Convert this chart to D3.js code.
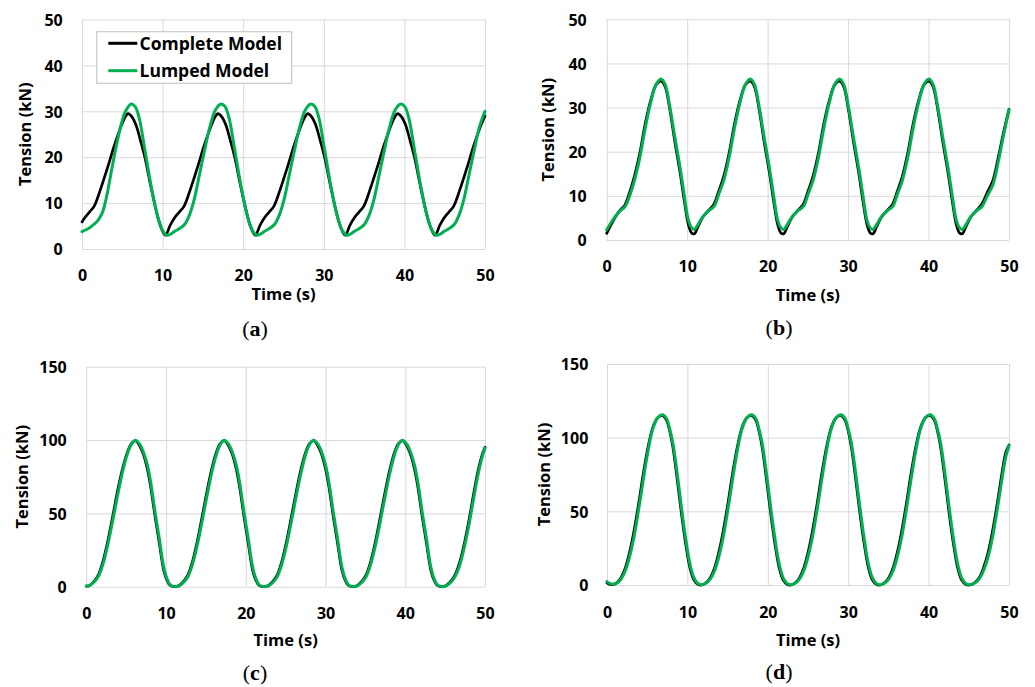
<!DOCTYPE html>
<html>
<head>
<meta charset="utf-8">
<script src="https://cdn.jsdelivr.net/npm/d3@7"></script>
<style>
  html, body { margin: 0; padding: 0; background: #fff; }
  svg { display: block; }
</style>
</head>
<body>
<svg id="chart" width="1035" height="687"></svg>
<script>
// ---------------- DATA ----------------
const timeTicks = [0, 10, 20, 30, 40, 50];
const tensionTicksAB = [0, 10, 20, 30, 40, 50];
const tensionTicksCD = [0, 50, 100, 150];
const seriesNames = ["Complete Model", "Lumped Model"];
const captions = ["a", "b", "c", "d"];
const xTitle = "Time (s)";
const yTitle = "Tension (kN)";

// Panel (a)
const timeA_complete = [0,0.3,0.9,1.5,2.2,3.2,4.0,4.8,5.3,5.7,
  6.2,6.7,7.2,7.8,8.5,9.4,9.9,10.35,
  10.95,11.45,12.05,12.65,13.35,14.35,15.15,15.95,16.45,16.85,
  17.35,17.85,18.35,18.95,19.65,20.55,21.05,21.5,
  22.1,22.6,23.2,23.8,24.5,25.5,26.3,27.1,27.6,28.0,
  28.5,29.0,29.5,30.1,30.8,31.7,32.2,32.65,
  33.25,33.75,34.35,34.95,35.65,36.65,37.45,38.25,38.75,39.15,
  39.65,40.15,40.65,41.25,41.95,42.85,43.35,43.8,
  44.4,44.9,45.5,46.1,46.8,47.8,48.6,49.4,49.9,50.0];
const tensionA_complete = [5.9,6.7,8.0,9.3,12.5,17.9,22.5,26.5,28.6,29.5,
  28.8,27.0,24.0,20.0,14.0,7.0,4.3,3.0,
  5.2,6.7,8.0,9.3,12.5,17.9,22.5,26.5,28.6,29.5,
  28.8,27.0,24.0,20.0,14.0,7.0,4.3,3.0,
  5.2,6.7,8.0,9.3,12.5,17.9,22.5,26.5,28.6,29.5,
  28.8,27.0,24.0,20.0,14.0,7.0,4.3,3.0,
  5.2,6.7,8.0,9.3,12.5,17.9,22.5,26.5,28.6,29.5,
  28.8,27.0,24.0,20.0,14.0,7.0,4.3,3.0,
  5.2,6.7,8.0,9.3,12.5,17.9,22.5,26.5,28.6,29.0];
const timeA_lumped = [0,0.5,1.0,1.5,2.0,2.5,3.0,3.6,4.2,4.9,5.4,6.1,
  6.6,7.1,7.8,8.6,9.4,10.0,10.55,
  11.05,11.55,12.15,12.75,13.35,13.95,14.55,15.15,15.85,16.55,17.25,
  17.75,18.25,18.95,19.75,20.55,21.15,21.7,
  22.2,22.7,23.3,23.9,24.5,25.1,25.7,26.3,27.0,27.7,28.4,
  28.9,29.4,30.1,30.9,31.7,32.3,32.85,
  33.35,33.85,34.45,35.05,35.65,36.25,36.85,37.45,38.15,38.85,39.55,
  40.05,40.55,41.25,42.05,42.85,43.45,44.0,
  44.5,45.0,45.6,46.2,46.8,47.4,48.0,48.6,49.3,50.0];
const tensionA_lumped = [3.8,4.2,4.7,5.4,6.3,7.8,11.0,16.5,22.0,27.4,30.0,31.6,
  31.0,28.5,21.6,13.5,7.0,4.0,3.0,
  3.3,3.9,4.5,5.4,7.5,11.0,16.0,21.0,26.5,30.3,31.6,
  31.0,28.5,21.6,13.5,7.0,4.0,3.0,
  3.3,3.9,4.5,5.4,7.5,11.0,16.0,21.0,26.5,30.3,31.6,
  31.0,28.5,21.6,13.5,7.0,4.0,3.0,
  3.3,3.9,4.5,5.4,7.5,11.0,16.0,21.0,26.5,30.3,31.6,
  31.0,28.5,21.6,13.5,7.0,4.0,3.0,
  3.3,3.9,4.5,5.4,7.5,11.0,16.0,21.0,26.5,30.0];

// Panel (b)
const timeB = [0,0.5,1.0,1.6,2.25,2.85,3.45,4.15,4.75,5.45,6.15,6.75,
  7.25,7.85,8.45,9.1,9.65,10.15,10.55,10.9,
  11.35,11.95,12.65,13.35,13.95,14.55,15.25,15.85,16.55,17.25,17.85,
  18.35,18.95,19.55,20.2,20.75,21.25,21.65,22.0,
  22.45,23.05,23.75,24.45,25.05,25.65,26.35,26.95,27.65,28.35,28.95,
  29.45,30.05,30.65,31.3,31.85,32.35,32.75,33.1,
  33.55,34.15,34.85,35.55,36.15,36.75,37.45,38.05,38.75,39.45,40.05,
  40.55,41.15,41.75,42.4,42.95,43.45,43.85,44.2,
  44.65,45.25,45.95,46.65,47.3,48.0,48.7,49.3,50.0];
const tensionB_complete = [1.5,3.3,5.0,6.6,7.9,10.8,14.5,20.0,26.0,31.5,35.2,36.0,
  34.8,29.5,22.5,15.5,8.8,3.5,1.6,1.4,
  3.0,5.2,6.7,8.2,11.2,14.5,20.0,26.0,31.5,35.2,36.0,
  34.8,29.5,22.5,15.5,8.8,3.5,1.6,1.4,
  3.0,5.2,6.7,8.2,11.2,14.5,20.0,26.0,31.5,35.2,36.0,
  34.8,29.5,22.5,15.5,8.8,3.5,1.6,1.4,
  3.0,5.2,6.7,8.2,11.2,14.5,20.0,26.0,31.5,35.2,36.0,
  34.8,29.5,22.5,15.5,8.8,3.5,1.6,1.4,
  3.0,5.2,6.7,8.2,10.8,13.5,19.0,24.2,29.6];
const tensionB_lumped = [2.3,3.8,5.2,6.5,7.5,10.0,13.5,19.0,25.0,31.0,35.3,36.5,
  35.3,30.2,23.5,16.6,10.0,4.5,2.8,2.4,
  3.5,5.3,6.6,7.6,10.5,13.5,19.0,25.0,31.0,35.3,36.5,
  35.3,30.2,23.5,16.6,10.0,4.5,2.8,2.4,
  3.5,5.3,6.6,7.6,10.5,13.5,19.0,25.0,31.0,35.3,36.5,
  35.3,30.2,23.5,16.6,10.0,4.5,2.8,2.4,
  3.5,5.3,6.6,7.6,10.5,13.5,19.0,25.0,31.0,35.3,36.5,
  35.3,30.2,23.5,16.6,10.0,4.5,2.8,2.4,
  3.5,5.3,6.6,7.6,10.0,12.5,18.0,23.5,29.5];

// Panel (c)
const timeC = [0,0.35,0.95,1.55,2.15,2.75,3.35,3.95,4.55,5.15,5.65,6.15,
  6.65,7.15,7.65,8.05,8.65,9.15,9.7,10.15,10.5,10.95,
  11.5,12.1,12.7,13.3,13.9,14.5,15.1,15.7,16.3,16.8,17.3,
  17.8,18.3,18.8,19.2,19.8,20.3,20.85,21.3,21.65,22.1,
  22.7,23.3,23.9,24.5,25.1,25.7,26.3,26.9,27.5,28.0,28.5,
  29.0,29.5,30.0,30.4,31.0,31.5,32.05,32.5,32.85,33.3,
  33.85,34.45,35.05,35.65,36.25,36.85,37.45,38.05,38.65,39.15,39.65,
  40.15,40.65,41.15,41.55,42.15,42.65,43.2,43.65,44.0,44.45,
  45.0,45.6,46.2,46.85,47.45,48.05,48.6,49.15,49.65,50.0];
const tensionC_complete = [0.4,0.6,3.5,8.5,18.5,32.5,49,66,80.5,91.5,97.5,99.5,
  96.5,90.5,80.5,69,47,30,11.5,4,1.0,0.1,
  0.4,3.0,7.5,16.8,30.5,47,64,79.5,91.5,97.5,99.5,
  96.5,90.5,80.5,69,47,30,11.5,4,1.0,0.1,
  0.4,3.0,7.5,16.8,30.5,47,64,79.5,91.5,97.5,99.5,
  96.5,90.5,80.5,69,47,30,11.5,4,1.0,0.1,
  0.4,3.0,7.5,16.8,30.5,47,64,79.5,91.5,97.5,99.5,
  96.5,90.5,80.5,69,47,30,11.5,4,1.0,0.1,
  0.4,3.0,7.5,17,30.5,47,64,79.5,90,95];
const tensionC_lumped = [0.5,0.6,3.0,7.5,16.5,30,46,63,78.5,90.5,97,99.8,
  97.5,92,83,72,50,33,13.6,5,1.5,0.2,
  0.3,2.5,6.5,15,28,44,61,77,90,97,99.8,
  97.5,92,83,72,50,33,13.6,5,1.5,0.2,
  0.3,2.5,6.5,15,28,44,61,77,90,97,99.8,
  97.5,92,83,72,50,33,13.6,5,1.5,0.2,
  0.3,2.5,6.5,15,28,44,61,77,90,97,99.8,
  97.5,92,83,72,50,33,13.6,5,1.5,0.2,
  0.3,2.5,6.5,15,28,44,61,77,88.5,94.5];

// Panel (d)
const timeD = [0,0.3,0.7,1.3,1.8,2.3,2.8,3.3,3.9,4.5,5.1,5.7,6.3,6.9,
  7.4,7.8,8.2,8.75,9.25,9.8,10.3,10.8,11.3,11.8,
  12.4,12.9,13.4,13.9,14.4,15.0,15.6,16.2,16.8,17.4,18.0,
  18.5,18.9,19.3,19.85,20.35,20.9,21.4,21.9,22.4,22.9,
  23.5,24.0,24.5,25.0,25.5,26.1,26.7,27.3,27.9,28.5,29.1,
  29.6,30.0,30.4,30.95,31.45,32.0,32.5,33.0,33.5,34.0,
  34.6,35.1,35.6,36.1,36.6,37.2,37.8,38.4,39.0,39.6,40.2,
  40.7,41.1,41.5,42.05,42.55,43.1,43.6,44.1,44.6,45.1,
  45.8,46.35,46.85,47.4,47.9,48.5,49.1,49.6,50.0];
const tensionD_complete = [1.5,0.6,0.3,1.8,5.5,12,22,35,54,75,93.5,107,113.5,115,
  112,104.5,93.5,71,49,27.5,12,3.5,0.5,0,
  1.8,5.5,12,22,35,54,75,93.5,107,113.5,115,
  112,104.5,93.5,71,49,27.5,12,3.5,0.5,0,
  1.8,5.5,12,22,35,54,75,93.5,107,113.5,115,
  112,104.5,93.5,71,49,27.5,12,3.5,0.5,0,
  1.8,5.5,12,22,35,54,75,93.5,107,113.5,115,
  112,104.5,93.5,71,49,27.5,12,3.5,0.5,0,
  1.8,5.5,12,22,35,54,75,90,95];
const tensionD_lumped = [2.3,1.2,0.5,1.5,4.5,10,19,31,50,71,91,106,113.5,115.5,
  113,106,96.2,75,53,31,14.7,5,1,0.2,
  1.5,4.5,10,19,31,50,71,91,106,113.5,115.5,
  113,106,96.2,75,53,31,14.7,5,1,0.2,
  1.5,4.5,10,19,31,50,71,91,106,113.5,115.5,
  113,106,96.2,75,53,31,14.7,5,1,0.2,
  1.5,4.5,10,19,31,50,71,91,106,113.5,115.5,
  113,106,96.2,75,53,31,14.7,5,1,0.2,
  1.5,4.5,10,19,31,50,71,87,94.5];

// ---------------- LAYOUT / STYLE ----------------
const COLORS = ["#000000", "#00b050"];
const WIDTHS = [2.7, 3.0];
const GRID = "#d9d9d9";
const SANS = "'Open Sans', 'DejaVu Sans', sans-serif";
const SERIF = "'Liberation Serif', 'DejaVu Serif', serif";
const TICK_FS = 16, TITLE_FS = 16.5, CAP_H = 0.714;

const zip = (t, v) => t.map((d, i) => ({ t: d, v: v[i] }));

const panels = [
  { cap: captions[0], left: 82, right: 485, top: 19.5, bottom: 249, yMax: 50, yTicks: tensionTicksAB,
    series: [zip(timeA_complete, tensionA_complete), zip(timeA_lumped, tensionA_lumped)],
    yLabRight: 62.7, xLabC: 275.5, xTitleC: 294.5, yTitleC: 25, capBase: 336, capX: 255, legend: true },
  { cap: captions[1], left: 606.7, right: 1009, top: 19.3, bottom: 240, yMax: 50, yTicks: tensionTicksAB,
    series: [zip(timeB, tensionB_complete), zip(timeB, tensionB_lumped)],
    yLabRight: 586.7, xLabC: 266, xTitleC: 295, yTitleC: 548, capBase: 335, capX: 779 },
  { cap: captions[2], left: 86.3, right: 485, top: 366.7, bottom: 586.7, yMax: 150, yTicks: tensionTicksCD,
    series: [zip(timeC, tensionC_complete), zip(timeC, tensionC_lumped)],
    yLabRight: 66.7, xLabC: 613, xTitleC: 640, yTitleC: 22.5, capBase: 680, capX: 255 },
  { cap: captions[3], left: 607, right: 1009, top: 364, bottom: 585, yMax: 150, yTicks: tensionTicksCD,
    series: [zip(timeD, tensionD_complete), zip(timeD, tensionD_lumped)],
    yLabRight: 588.3, xLabC: 612, xTitleC: 640, yTitleC: 544, capBase: 679, capX: 779 }
];

const svg = d3.select("#chart");

panels.forEach(p => {
  const x = d3.scaleLinear().domain([0, 50]).range([p.left, p.right]);
  const y = d3.scaleLinear().domain([0, p.yMax]).range([p.bottom, p.top]);
  const g = svg.append("g");
  const capOff = TICK_FS * CAP_H / 2;

  // x axis + vertical gridlines
  const gx = g.append("g")
    .attr("transform", `translate(0,${p.bottom})`)
    .call(d3.axisBottom(x).tickValues(timeTicks).tickFormat(d3.format("d"))
      .tickSizeInner(-(p.bottom - p.top)).tickSizeOuter(0).tickPadding(0));
  gx.select(".domain").remove();
  gx.selectAll(".tick line").attr("stroke", GRID).attr("stroke-width", 1);
  gx.selectAll(".tick text")
    .attr("dy", null)
    .attr("y", p.xLabC - p.bottom + capOff)
    .attr("fill", "#000")
    .style("font-family", SANS).style("font-size", TICK_FS + "px").style("font-weight", "bold");

  // y axis + horizontal gridlines
  const gy = g.append("g")
    .attr("transform", `translate(${p.left},0)`)
    .call(d3.axisLeft(y).tickValues(p.yTicks).tickFormat(d3.format("d"))
      .tickSizeInner(-(p.right - p.left)).tickSizeOuter(0).tickPadding(0));
  gy.select(".domain").remove();
  gy.selectAll(".tick line").attr("stroke", GRID).attr("stroke-width", 1);
  gy.selectAll(".tick text")
    .attr("dy", null)
    .attr("x", p.yLabRight - p.left)
    .attr("y", capOff)
    .attr("fill", "#000")
    .style("font-family", SANS).style("font-size", TICK_FS + "px").style("font-weight", "bold");

  // series lines
  const line = d3.line().x(d => x(d.t)).y(d => y(d.v)).curve(d3.curveCatmullRom.alpha(0.5));
  p.series.forEach((s, i) => {
    g.append("path")
      .datum(s)
      .attr("d", line)
      .attr("fill", "none")
      .attr("stroke", COLORS[i])
      .attr("stroke-width", WIDTHS[i])
      .attr("stroke-linejoin", "round")
      .attr("stroke-linecap", "round");
  });

  // axis titles
  g.append("text")
    .attr("x", (p.left + p.right) / 2)
    .attr("y", p.xTitleC + TITLE_FS * CAP_H / 2)
    .attr("text-anchor", "middle")
    .style("font-family", SANS).style("font-size", TITLE_FS + "px").style("font-weight", "bold")
    .text(xTitle);

  const yc = (p.top + p.bottom) / 2;
  g.append("text")
    .attr("transform", `translate(${p.yTitleC + TITLE_FS * CAP_H / 2},${yc}) rotate(-90)`)
    .attr("text-anchor", "middle")
    .style("font-family", SANS).style("font-size", TITLE_FS + "px").style("font-weight", "bold")
    .text(yTitle);

  // caption
  const cap = g.append("text")
    .attr("x", p.capX).attr("y", p.capBase)
    .attr("text-anchor", "middle")
    .style("font-family", SERIF).style("font-size", "22px");
  cap.append("tspan").text("(");
  cap.append("tspan").style("font-weight", "bold").text(p.cap);
  cap.append("tspan").text(")");

  // legend
  if (p.legend) {
    const lg = g.append("g");
    lg.append("rect")
      .attr("x", 96.7).attr("y", 31.7).attr("width", 195).attr("height", 51.6)
      .attr("fill", "#fff").attr("stroke", "#c8c8c8").attr("stroke-width", 1.2);
    seriesNames.forEach((name, i) => {
      const ly = [43.3, 70.7][i];
      lg.append("line")
        .attr("x1", 108.3).attr("x2", 137.3).attr("y1", ly).attr("y2", ly)
        .attr("stroke", COLORS[i]).attr("stroke-width", 3);
      lg.append("text")
        .attr("x", 139.5).attr("y", ly + 17.5 * CAP_H / 2)
        .style("font-family", SANS).style("font-size", "17.5px").style("font-weight", "bold")
        .text(name);
    });
  }
});
</script>
</body>
</html>
